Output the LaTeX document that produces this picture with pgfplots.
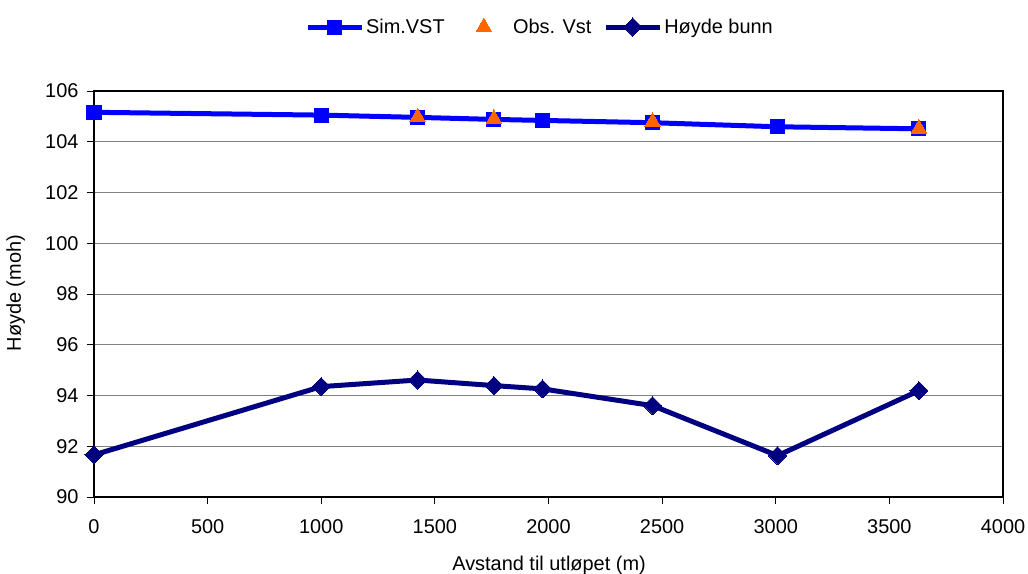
\documentclass[border=0pt]{standalone}
\usepackage{fontspec}
\setmainfont{Liberation Sans}
\usepackage{pgfplots}
\pgfplotsset{compat=1.18}
\definecolor{simblue}{RGB}{0,0,255}
\definecolor{obsorange}{RGB}{255,102,0}
\definecolor{bunnnavy}{RGB}{0,0,128}
\definecolor{gridgray}{RGB}{128,128,128}
\pgfplotsset{
  linelegend/.style={legend image code/.code={\draw[##1, mark repeat=2, mark phase=2] plot coordinates {(0bp,0bp) (27bp,0bp) (54bp,0bp)};}},
  marklegend/.style={legend image code/.code={\draw[##1] plot coordinates {(27bp,0bp)}; \path (0bp,0bp) (54bp,0bp);}}
}
\begin{document}
\begin{tikzpicture}
\path[use as bounding box] (0,0) rectangle (1028bp,574bp);
\begin{axis}[
  at={(94bp,77bp)}, anchor=south west,
  scale only axis, width=909bp, height=406bp,
  xmin=0, xmax=4000, ymin=90, ymax=106,
  xtick={0,500,...,4000}, ytick={90,92,...,106},
  tick align=outside, tick pos=left,
  major tick length=7bp,
  ymajorgrids, grid style={gridgray, line width=0.9bp},
  axis line style={black, line width=1.2bp},
  tick style={black, line width=0.9bp},
  font=\fontsize{20}{24}\selectfont,
  /pgf/number format/assume math mode=true,
  /pgf/number format/set thousands separator={},
  xticklabel style={yshift=-12bp},
  yticklabel style={xshift=-5bp},
  xlabel={Avstand til utløpet (m)},
  ylabel={Høyde (moh)},
  xlabel style={at={(axis description cs:0.5006,-0.1675)}, anchor=center},
  ylabel style={at={(axis description cs:-0.086,0.502)}, anchor=center},
  clip=false,
  legend columns=3,
  legend style={draw=none, fill=none, at={(axis description cs:0.4906,1.1576)}, anchor=center,
    /tikz/every even column/.append style={column sep=10bp}},
]
\addplot[simblue, line width=5bp, mark=square*, mark size=7bp, mark options={solid, fill=simblue, draw=simblue, line width=0pt}, linelegend]
coordinates {(0,105.16) (1000,105.05) (1424,104.96) (1760,104.88) (1974,104.84) (2458,104.75) (3008,104.59) (3630,104.51)};
\addlegendentry{Sim.VST}
\addplot[only marks, mark=triangle*, mark size=9bp, mark options={fill=obsorange, draw=obsorange, line width=0pt}, marklegend]
coordinates {(1424,104.97) (1760,104.90) (2458,104.79) (3630,104.52)};
\addlegendentry{Obs. Vst}
\addplot[bunnnavy, line width=5bp, mark=square*, mark size=6.4bp, mark options={solid, rotate=45, fill=bunnnavy, draw=bunnnavy, line width=0pt}, linelegend]
coordinates {(0,91.66) (1000,94.35) (1424,94.61) (1760,94.39) (1974,94.26) (2458,93.60) (3008,91.63) (3630,94.19)};
\addlegendentry{Høyde bunn}
\end{axis}
\end{tikzpicture}
\end{document}
